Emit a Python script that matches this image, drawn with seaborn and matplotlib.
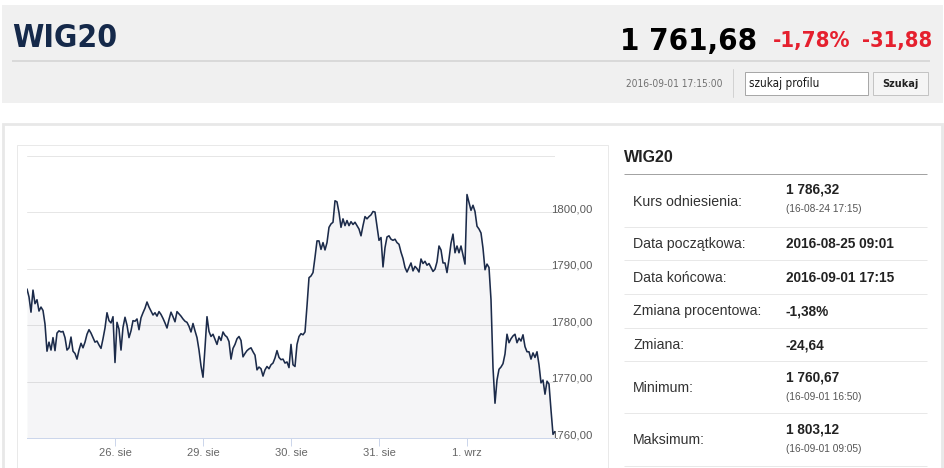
import os
import pandas as pd
import matplotlib
matplotlib.use("Agg")
import matplotlib.pyplot as plt
from matplotlib.patches import Rectangle
from matplotlib import font_manager
from matplotlib.font_manager import FontProperties
import seaborn as sns

# ================================================================
# Session days (x axis is ordinal: one slot per trading day).
days = ["25. sie", "26. sie", "29. sie", "30. sie", "31. sie", "1. wrz"]

# WIG20 intraday readings, roughly every 11 minutes.
aug25 = [1786.4, 1785.0, 1782.3, 1786.2, 1783.8, 1784.5, 1782.5, 1783.2, 1782.6, 1780.2,
         1775.4, 1777.0, 1775.6, 1777.8, 1775.5, 1778.6, 1779.0, 1778.8, 1778.9, 1777.8,
         1775.6, 1776.0, 1777.9, 1775.4, 1775.0, 1774.0, 1775.6, 1776.8, 1776.0, 1777.0,
         1778.4, 1779.2, 1778.6, 1777.8, 1777.0, 1777.2, 1776.5, 1775.9, 1777.6, 1779.5,
         1782.2, 1780.8, 1780.4, 1781.5]
aug26 = [1773.4, 1780.5, 1779.3, 1775.6, 1779.6, 1781.4, 1780.0, 1777.8, 1779.0, 1780.8,
         1780.7, 1781.1, 1779.2, 1781.3, 1782.2, 1783.0, 1784.1, 1783.2, 1782.5, 1781.8,
         1782.2, 1781.6, 1782.4, 1781.9, 1781.2, 1780.4, 1779.5, 1781.0, 1782.3, 1781.5,
         1780.6, 1782.4, 1782.0, 1781.6, 1781.1, 1780.7, 1780.5, 1779.8, 1778.8, 1780.3,
         1779.0, 1777.8, 1775.6, 1772.8]
aug29 = [1770.8, 1776.0, 1781.5, 1778.9, 1778.0, 1778.4, 1777.5, 1776.6, 1778.0, 1777.3,
         1778.8, 1778.2, 1777.9, 1777.1, 1774.0, 1775.9, 1776.6, 1777.6, 1778.0, 1777.3,
         1774.4, 1775.0, 1775.5, 1775.8, 1776.0, 1775.3, 1774.7, 1772.1, 1772.6, 1772.3,
         1771.0, 1772.1, 1772.7, 1772.3, 1773.0, 1773.3, 1774.2, 1775.5, 1774.3, 1773.9,
         1774.0, 1773.3, 1773.5, 1772.5]
aug30 = [1776.6, 1773.0, 1772.7, 1776.6, 1778.0, 1778.5, 1778.3, 1778.8, 1783.4, 1788.4,
         1788.7, 1789.3, 1792.0, 1794.9, 1794.9, 1793.4, 1794.6, 1793.3, 1794.6, 1797.3,
         1797.9, 1798.2, 1802.0, 1801.8, 1799.9, 1797.3, 1798.8, 1797.6, 1798.5, 1797.6,
         1798.3, 1797.8, 1798.2, 1797.6, 1797.0, 1795.8, 1797.6, 1799.2, 1798.8, 1799.2,
         1799.5, 1800.1, 1800.0, 1797.5]
aug31 = [1795.0, 1795.5, 1790.3, 1793.7, 1795.6, 1795.8, 1795.2, 1795.0, 1795.2, 1794.6,
         1794.3, 1792.9, 1791.8, 1790.2, 1789.4, 1790.2, 1791.0, 1789.6, 1790.4, 1790.0,
         1789.4, 1791.7, 1790.9, 1791.3, 1790.6, 1790.9, 1790.2, 1789.5, 1789.9, 1791.2,
         1794.0, 1793.3, 1791.0, 1791.0, 1789.3, 1791.7, 1794.5, 1796.1, 1792.8, 1794.0,
         1792.8, 1794.0, 1792.4, 1790.8]
sep01 = [1803.1, 1801.7, 1800.3, 1801.2, 1800.1, 1797.5, 1797.0, 1796.3, 1793.6, 1789.8,
         1790.8, 1790.2, 1784.5, 1772.5, 1766.2, 1770.3, 1772.2, 1772.6, 1773.2, 1774.9,
         1778.4, 1776.9, 1777.6, 1778.1, 1778.4, 1776.9, 1777.7, 1777.2, 1778.3, 1776.2,
         1775.3, 1775.3, 1774.0, 1775.1, 1774.3, 1775.3, 1773.0, 1769.8, 1770.3, 1767.8,
         1770.1, 1769.6, 1765.0, 1760.7, 1761.2]

y_ticks = [1760, 1770, 1780, 1790, 1800, 1810]

# Header / side table texts.
title = "WIG20"
last_price = "1 761,68"
change_pct = "-1,78%"
change_abs = "-31,88"
timestamp = "2016-09-01 17:15:00"

panel_labels = ["Kurs odniesienia:", "Data początkowa:", "Data końcowa:", "Zmiana procentowa:",
                "Zmiana:", "Minimum:", "Maksimum:"]
panel_values = ["1 786,32", "2016-08-25 09:01", "2016-09-01 17:15", "-1,38%", "-24,64",
                "1 760,67", "1 803,12"]
panel_notes = ["(16-08-24 17:15)", "", "", "", "", "(16-09-01 16:50)", "(16-09-01 09:05)"]
# ================================================================

sessions = [aug25, aug26, aug29, aug30, aug31, sep01]
rows = []
for d, vals in enumerate(sessions):
    for i, v in enumerate(vals):
        rows.append({"pos": d + i / 44, "value": v})
df = pd.DataFrame(rows)

sns.set_theme(style="white")
plt.rcParams["font.family"] = ["Liberation Sans", "DejaVu Sans"]
PX = 0.72  # one pixel in points at dpi=100


# Header uses a narrow face if one is installed, else plain Liberation Sans.
def find_narrow(bold):
    for f in font_manager.fontManager.ttflist:
        base = os.path.basename(f.fname).lower()
        if not ("narrow" in base or "condensed" in base):
            continue
        if any(k in base for k in ["italic", "oblique", "semi", "extra", "light", "medium", "black", "thin"]):
            continue
        if ("bold" in base) == bold:
            return f.fname
    return None


def narrow_fp(bold):
    path = find_narrow(bold)
    if path:
        return FontProperties(fname=path)
    return FontProperties(family="Liberation Sans", weight="bold" if bold else "normal")


fig = plt.figure(figsize=(9.45, 4.68), dpi=100)
fig.patch.set_facecolor("white")

# Page background in pixel coordinates.
bg = fig.add_axes([0, 0, 1, 1])
bg.set_xlim(0, 945)
bg.set_ylim(468, 0)
bg.axis("off")


def box(x0, y0, x1, y1, fc, ec="none", lw=1.0):
    bg.add_patch(Rectangle((x0, y0), x1 - x0, y1 - y0, facecolor=fc, edgecolor=ec, linewidth=lw))


def hline(y, x0, x1, color, lw=PX):
    bg.plot([x0, x1], [y, y], color=color, lw=lw, solid_capstyle="butt")


fit = []  # (text, target width px, max size)


def ntext(x, y, s, bold, size, width, **kw):
    t = bg.text(x, y, s, fontproperties=narrow_fp(bold), **kw)
    t.set_fontsize(size)
    fit.append((t, width, size))
    return t


# Header bar.
box(2, 5, 943, 103, "#f0f0f0")
hline(61, 12, 930, "#d9d9d9", 2 * PX)
bg.plot([733, 733], [69, 97], color="#d2d2d2", lw=PX)
box(745, 72, 868, 95, "white", "#a8a8a8", PX)
box(873, 72, 928, 95, "#f5f5f5", "#c4c4c4", PX)
ntext(12, 47, title, True, 27, 105, color="#15294a", va="baseline")
ntext(757, 50, last_price, True, 30, 137, color="black", ha="right", va="baseline")
ntext(773, 47, change_pct, True, 21, 77, color="#e5202e", va="baseline")
ntext(932, 47, change_abs, True, 21, 70, color="#e5202e", ha="right", va="baseline")
ntext(722, 84, timestamp, False, 8.5, 97, color="#707070", ha="right", va="center")
ntext(749, 83, "szukaj profilu", False, 9.5, 70, color="#1a1a1a", va="center")
ntext(900.5, 84, "Szukaj", True, 9.5, 36, color="#222222", ha="center", va="center")

# Lower panels.
box(3, 124, 942, 475, "white", "#e8e8e8", 2.0)
box(17, 145, 608, 475, "white", "#e9e9e9", PX)

# Side table.
bg.text(624, 158, title, fontweight="bold", fontsize=11.5, color="#222222", va="center")
hline(174, 624, 927, "#a3a3a3")
label_y = [201.5, 244, 277.5, 311.5, 345, 388, 440]
value_y = [190, 244, 277.5, 311.5, 345, 378, 430]
sep_y = [227, 260, 294, 328, 361, 413, 466]
for lab, val, note, ly, vy, sy in zip(panel_labels, panel_values, panel_notes, label_y, value_y, sep_y):
    bg.text(633, ly, lab, fontsize=10.2, color="#333333", va="center")
    bg.text(786, vy, val, fontsize=9.8, fontweight="bold", color="#222222", va="center")
    if note:
        bg.text(786, vy + 19.5, note, fontsize=7.3, color="#555555", va="center")
    hline(sy, 624, 927, "#e8e8e8")

# Chart.
ax = fig.add_axes([27 / 945, 1 - 438.3 / 468, 528 / 945, (438.3 - 155.5) / 468])
ax.patch.set_alpha(0)
for y in y_ticks[1:]:
    ax.axhline(y, color="#e6e6e6", lw=PX, zorder=0)
ax.fill_between(df["pos"], df["value"], y_ticks[0], color="#1c2b4a", alpha=0.045, lw=0, zorder=1)
sns.lineplot(data=df, x="pos", y="value", ax=ax, color="#1c2b4a", linewidth=1.15, zorder=2)
ax.set_xlim(0, 6)
ax.set_ylim(y_ticks[0], y_ticks[-1])
ax.set_xlabel("")
ax.set_ylabel("")
for s in ["top", "left", "right"]:
    ax.spines[s].set_visible(False)
ax.spines["bottom"].set_color("#ccd6eb")
ax.spines["bottom"].set_linewidth(PX)

ax.set_xticks(range(1, len(days)))
ax.set_xticklabels(days[1:])
ax.tick_params(axis="x", bottom=True, length=8 * PX, width=PX, color="#ccd6eb",
               labelsize=8, labelcolor="#666666", pad=1.5)
ax.yaxis.tick_right()
ax.set_yticks(y_ticks[:-1])
ax.set_yticklabels([f"{v},00" for v in y_ticks[:-1]])
ax.tick_params(axis="y", right=True, length=0, pad=-4 * PX, labelsize=8.2, labelcolor="#5a5a5a")
for lbl in ax.get_yticklabels():
    lbl.set_va("baseline")

# Shrink header texts so they take the same width as in the page.
fig.canvas.draw()
renderer = fig.canvas.get_renderer()
for t, width, size in fit:
    w = t.get_window_extent(renderer).width
    if w > width:
        t.set_fontsize(size * width / w)

plt.savefig("out.png", dpi=100)
